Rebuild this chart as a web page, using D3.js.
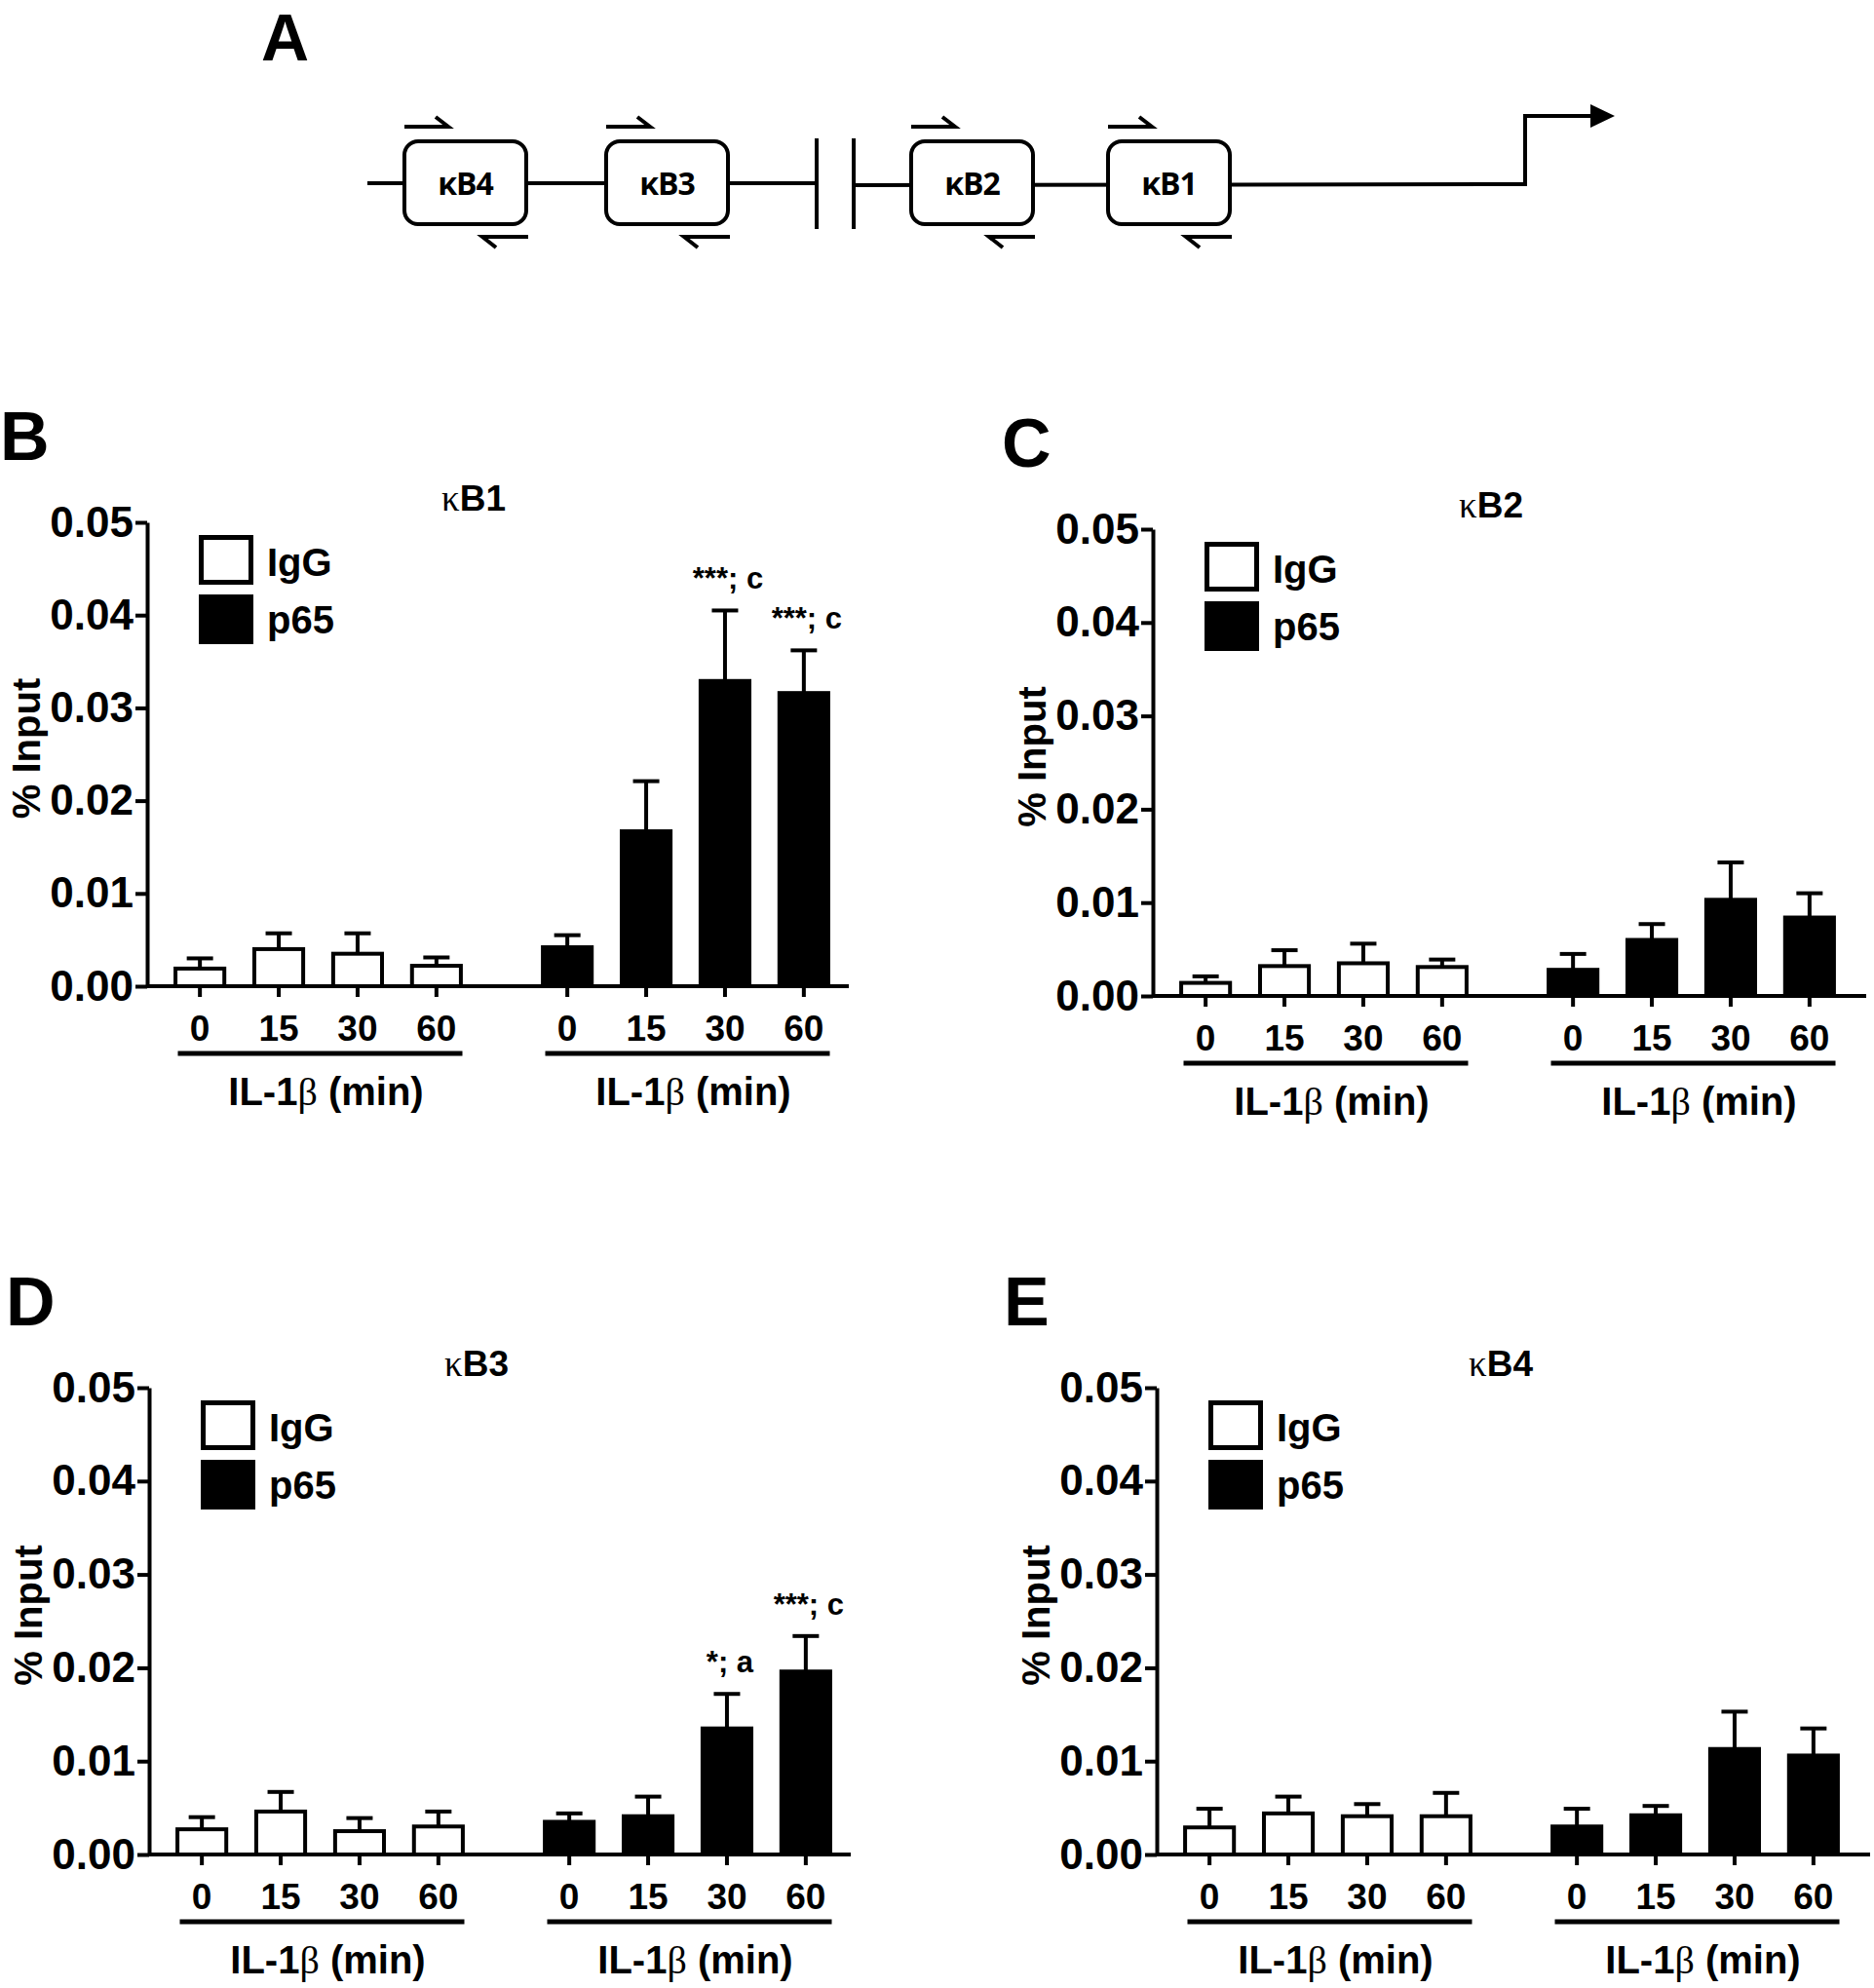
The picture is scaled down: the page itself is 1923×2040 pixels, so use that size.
<!DOCTYPE html>
<html>
<head>
<meta charset="utf-8">
<script src="https://cdn.jsdelivr.net/npm/d3@7"></script>
<style>
  body { margin: 0; background: #fff; }
  svg { display: block; }
  text { font-family: "Liberation Sans", Arial, sans-serif; font-weight: bold; fill: #000; }
</style>
</head>
<body>
<div id="figure"></div>
<script>
//Categories and Tick Labels
let times = ["0", "15", "30", "60"];
let groups = ["IgG", "p65"];
let yTicks = [0, 0.01, 0.02, 0.03, 0.04, 0.05];
let yLabel = "% Input";
let xGroupLabel = "IL-1β (min)";
let sites = ["κB4", "κB3", "κB2", "κB1"];

//Mean % Input and SEM
let kB1IgG = [0.0019, 0.0040, 0.0035, 0.0022];
let kB1IgGSem = [0.0011, 0.0017, 0.0022, 0.0009];
let kB1p65 = [0.0042, 0.0167, 0.0329, 0.0316];
let kB1p65Sem = [0.0013, 0.0054, 0.0076, 0.0046];
let kB1Notes = ["", "", "***; c", "***; c"];

let kB2IgG = [0.0014, 0.0032, 0.0035, 0.0031];
let kB2IgGSem = [0.0007, 0.0017, 0.0021, 0.0008];
let kB2p65 = [0.0028, 0.0060, 0.0103, 0.0084];
let kB2p65Sem = [0.0017, 0.0017, 0.0040, 0.0026];
let kB2Notes = ["", "", "", ""];

let kB3IgG = [0.0027, 0.0046, 0.0025, 0.0030];
let kB3IgGSem = [0.0013, 0.0021, 0.0014, 0.0016];
let kB3p65 = [0.0035, 0.0041, 0.0135, 0.0196];
let kB3p65Sem = [0.0009, 0.0021, 0.0037, 0.0038];
let kB3Notes = ["", "", "*; a", "***; c"];

let kB4IgG = [0.0029, 0.0044, 0.0041, 0.0041];
let kB4IgGSem = [0.0020, 0.0018, 0.0013, 0.0025];
let kB4p65 = [0.0030, 0.0042, 0.0113, 0.0106];
let kB4p65Sem = [0.0019, 0.0010, 0.0040, 0.0029];
let kB4Notes = ["", "", "", ""];

//Panels Built From the Arrays Above
let panels = [
  { letter: "B", site: "κB1", means: { IgG: kB1IgG, p65: kB1p65 }, sems: { IgG: kB1IgGSem, p65: kB1p65Sem }, notes: kB1Notes },
  { letter: "C", site: "κB2", means: { IgG: kB2IgG, p65: kB2p65 }, sems: { IgG: kB2IgGSem, p65: kB2p65Sem }, notes: kB2Notes },
  { letter: "D", site: "κB3", means: { IgG: kB3IgG, p65: kB3p65 }, sems: { IgG: kB3IgGSem, p65: kB3p65Sem }, notes: kB3Notes },
  { letter: "E", site: "κB4", means: { IgG: kB4IgG, p65: kB4p65 }, sems: { IgG: kB4IgGSem, p65: kB4p65Sem }, notes: kB4Notes }
];

//Layout of the Figure
let svgWidth = 1923;
let svgHeight = 2040;
let plotWidth = 728;
let frames = {
  B: { left: 151, right: 871, top: 536, bottom: 1012, letterX: 0, titleX: 486 },
  C: { left: 1183, right: 1915, top: 543, bottom: 1022, letterX: 1028, titleX: 1530 },
  D: { left: 153, right: 873, top: 1424, bottom: 1903, letterX: 6, titleX: 489 },
  E: { left: 1187, right: 1919, top: 1424, bottom: 1903, letterX: 1030, titleX: 1540 }
};
let fills = { IgG: "#fff", p65: "#000" };
let stroke = 4;

let svg = d3.select("#figure")
  .append("svg")
  .attr("width", svgWidth)
  .attr("height", svgHeight);

svg.append("rect").attr("width", svgWidth).attr("height", svgHeight).attr("fill", "#fff");

//Write text where Greek letters use a serif face
function richText(sel, str) {
  str.split(/([α-ω])/).filter(s => s.length).forEach(part => {
    let t = sel.append("tspan").text(part);
    if (/[α-ω]/.test(part)) {
      t.style("font-family", "'Liberation Serif', 'DejaVu Serif', serif").style("font-weight", "normal");
    }
  });
  return sel;
}

//Panel A: Promoter Schematic
let diagram = {
  lineY: 188, boxTop: 143, boxH: 89, boxW: 129,
  boxX: { "κB4": 413, "κB3": 620, "κB2": 933, "κB1": 1135 },
  breakX: [838, 876], start: 377, tss: 1565, tssTop: 119, arrowEnd: 1634
};
let dg = svg.append("g").attr("class", "diagram");

dg.append("text")
  .attr("x", 268).attr("y", 62)
  .style("font-size", "68px")
  .text("A");

let backbone = d3.line();
dg.append("path")
  .attr("d", backbone([[diagram.start, diagram.lineY], [diagram.breakX[0], diagram.lineY]]))
  .attr("stroke", "#000").attr("stroke-width", stroke).attr("fill", "none");
dg.append("path")
  .attr("d", backbone([[diagram.breakX[1], diagram.lineY + 2], [diagram.tss, diagram.lineY + 1],
    [diagram.tss, diagram.tssTop], [diagram.arrowEnd, diagram.tssTop]]))
  .attr("stroke", "#000").attr("stroke-width", stroke).attr("fill", "none");
dg.append("path")
  .attr("d", `M${diagram.arrowEnd - 2},${diagram.tssTop - 12} L${diagram.arrowEnd + 23},${diagram.tssTop} L${diagram.arrowEnd - 2},${diagram.tssTop + 12} Z`)
  .attr("fill", "#000");

diagram.breakX.forEach(bx => {
  dg.append("line")
    .attr("x1", bx).attr("x2", bx)
    .attr("y1", diagram.boxTop - 1).attr("y2", diagram.boxTop + diagram.boxH + 3)
    .attr("stroke", "#000").attr("stroke-width", stroke);
});

let siteG = dg.selectAll("g.site")
  .data(sites)
  .enter()
  .append("g")
  .attr("class", "site")
  .attr("transform", d => `translate(${diagram.boxX[d]}, ${diagram.boxTop})`);

siteG.append("rect")
  .attr("x", stroke / 2).attr("y", stroke / 2)
  .attr("width", diagram.boxW - stroke).attr("height", diagram.boxH - stroke)
  .attr("rx", 14)
  .attr("fill", "#fff").attr("stroke", "#000").attr("stroke-width", stroke);

siteG.append("text")
  .attr("x", diagram.boxW / 2).attr("y", diagram.boxH / 2 + 12)
  .style("font-family", "'Open Sans', 'Noto Sans', sans-serif")
  .style("font-size", "32px")
  .style("letter-spacing", "-1px")
  .style("text-anchor", "middle")
  .text(d => d);

//Forward and reverse primers (half arrows)
siteG.append("path")
  .attr("d", "M2,-13 L47,-13 L34,-23")
  .attr("fill", "none").attr("stroke", "#000").attr("stroke-width", stroke);
siteG.append("path")
  .attr("d", `M${diagram.boxW},${diagram.boxH + 11} L${diagram.boxW - 47},${diagram.boxH + 11} L${diagram.boxW - 33},${diagram.boxH + 22}`)
  .attr("fill", "none").attr("stroke", "#000").attr("stroke-width", stroke);

//Panels B-E: Bar Charts
function drawPanel(p) {
  let f = frames[p.letter];
  let g = svg.append("g").attr("class", "panel-" + p.letter);

  let yScale = d3.scaleLinear()
    .domain([0, 0.05])
    .range([f.bottom, f.top]);
  let xGroup = d3.scaleBand()
    .domain(groups)
    .range([f.left, f.left + plotWidth])
    .paddingInner(0.144)
    .paddingOuter(0.0375);
  let xTime = d3.scaleBand()
    .domain(times)
    .range([0, xGroup.bandwidth()])
    .paddingInner(0.331)
    .paddingOuter(0.16);

  //Panel letter and title
  g.append("text")
    .attr("x", f.letterX).attr("y", f.top - 64)
    .style("font-size", "70px")
    .text(p.letter);
  richText(g.append("text")
    .attr("x", f.titleX).attr("y", f.top - 12)
    .style("font-size", "37px")
    .style("text-anchor", "middle"), p.site);

  //Bars and error bars
  let rows = [];
  groups.forEach(grp => {
    times.forEach((t, i) => {
      rows.push({ grp: grp, t: t, mean: p.means[grp][i], sem: p.sems[grp][i], note: grp === "p65" ? p.notes[i] : "" });
    });
  });
  let cx = d => xGroup(d.grp) + xTime(d.t) + xTime.bandwidth() / 2;

  g.selectAll("line.err")
    .data(rows)
    .enter()
    .append("line")
    .attr("class", "err")
    .attr("x1", cx).attr("x2", cx)
    .attr("y1", d => yScale(d.mean))
    .attr("y2", d => yScale(d.mean + d.sem))
    .attr("stroke", "#000").attr("stroke-width", stroke);
  g.selectAll("line.cap")
    .data(rows)
    .enter()
    .append("line")
    .attr("class", "cap")
    .attr("x1", d => cx(d) - 13.5).attr("x2", d => cx(d) + 13.5)
    .attr("y1", d => yScale(d.mean + d.sem))
    .attr("y2", d => yScale(d.mean + d.sem))
    .attr("stroke", "#000").attr("stroke-width", stroke);

  g.selectAll("rect.bar")
    .data(rows)
    .enter()
    .append("rect")
    .attr("class", "bar")
    .attr("x", d => xGroup(d.grp) + xTime(d.t) + stroke / 2)
    .attr("width", xTime.bandwidth() - stroke)
    .attr("y", d => yScale(d.mean))
    .attr("height", d => yScale(0) - yScale(d.mean))
    .attr("fill", d => fills[d.grp])
    .attr("stroke", "#000").attr("stroke-width", stroke);

  g.selectAll("text.note")
    .data(rows.filter(d => d.note))
    .enter()
    .append("text")
    .attr("class", "note")
    .attr("x", d => cx(d) + 3)
    .attr("y", d => yScale(d.mean + d.sem) - 22)
    .style("font-size", "31px")
    .style("text-anchor", "middle")
    .text(d => d.note);

  //Y axis
  let yAxis = g.append("g")
    .attr("transform", `translate(${f.left}, 0)`)
    .call(d3.axisLeft(yScale).tickValues(yTicks).tickFormat(d3.format(".2f")).tickSize(12).tickSizeOuter(0).tickPadding(2));
  yAxis.selectAll("path, line").attr("stroke", "#000").attr("stroke-width", stroke);
  yAxis.selectAll("text")
    .style("font-size", "44px")
    .style("font-family", "'Liberation Sans', Arial, sans-serif")
    .style("font-weight", "bold")
    .attr("fill", "#000");

  //X axis line
  g.append("line")
    .attr("x1", f.left).attr("x2", f.right)
    .attr("y1", f.bottom).attr("y2", f.bottom)
    .attr("stroke", "#000").attr("stroke-width", stroke);

  //Time ticks, underline and label for each group
  groups.forEach(grp => {
    let ax = g.append("g")
      .attr("transform", `translate(${xGroup(grp)}, ${f.bottom})`)
      .call(d3.axisBottom(xTime).tickSize(11).tickSizeOuter(0).tickPadding(19));
    ax.select(".domain").remove();
    ax.selectAll("line").attr("stroke", "#000").attr("stroke-width", stroke);
    ax.selectAll("text")
      .style("font-size", "37px")
      .style("font-family", "'Liberation Sans', Arial, sans-serif")
      .style("font-weight", "bold")
      .attr("fill", "#000");

    let mid = xGroup(grp) + xGroup.bandwidth() / 2;
    g.append("line")
      .attr("x1", mid - 144).attr("x2", mid + 148)
      .attr("y1", f.bottom + 69).attr("y2", f.bottom + 69)
      .attr("stroke", "#000").attr("stroke-width", 5);
    richText(g.append("text")
      .attr("x", mid + 8).attr("y", f.bottom + 122)
      .style("font-size", "40px")
      .style("text-anchor", "middle"), xGroupLabel);
  });

  //Y axis title
  g.append("text")
    .attr("transform", `translate(${f.left - 110}, ${(f.top + f.bottom) / 2 - 6}) rotate(-90)`)
    .style("font-size", "40px")
    .style("text-anchor", "middle")
    .text(yLabel);

  //Legend
  let legend = g.append("g")
    .attr("transform", `translate(${f.left + 53}, ${f.top + 13})`);
  legend.selectAll("rect")
    .data(groups)
    .enter()
    .append("rect")
    .attr("x", 2.5).attr("y", (d, i) => i * 61 + 2.5)
    .attr("width", 51).attr("height", 46)
    .attr("fill", d => fills[d])
    .attr("stroke", "#000").attr("stroke-width", 5);
  legend.selectAll("text")
    .data(groups)
    .enter()
    .append("text")
    .attr("x", 70).attr("y", (d, i) => i * 59 + 42)
    .style("font-size", "40px")
    .text(d => d);
}

panels.forEach(drawPanel);
</script>
</body>
</html>
